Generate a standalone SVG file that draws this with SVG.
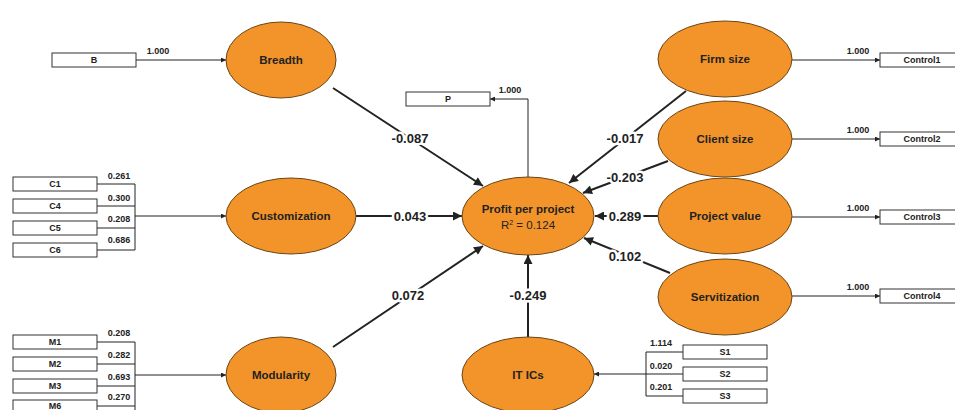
<svg xmlns="http://www.w3.org/2000/svg" width="955" height="410" viewBox="0 0 955 410">
<defs>
<style>
.lv ellipse{fill:#F3942A;stroke:#6b4414;stroke-width:1}
.lv text{font-family:"Liberation Sans",Arial,sans-serif;font-weight:bold;font-size:11.5px;fill:#222;text-anchor:middle}
.mv rect{fill:#fff;stroke:#333;stroke-width:1}
.mv text{font-family:"Liberation Sans",Arial,sans-serif;font-weight:bold;font-size:9px;fill:#222;text-anchor:middle}
.thin{stroke:#222;stroke-width:1;fill:none}
.thick{stroke:#222;stroke-width:2;fill:none}
.ld{font-family:"Liberation Sans",Arial,sans-serif;font-weight:bold;font-size:9px;fill:#222;text-anchor:middle}
.pc{font-family:"Liberation Sans",Arial,sans-serif;font-weight:bold;font-size:13px;fill:#222;text-anchor:middle;stroke:#fff;stroke-width:5;paint-order:stroke;stroke-linejoin:round}
</style>
<marker id="as" viewBox="0 0 10 10" refX="10" refY="5" markerWidth="6" markerHeight="5" markerUnits="userSpaceOnUse" orient="auto"><path d="M0,0 L10,5 L0,10 z" fill="#222"/></marker>
<marker id="al" viewBox="0 0 10 10" refX="10" refY="5" markerWidth="11" markerHeight="9" markerUnits="userSpaceOnUse" orient="auto"><path d="M0,0 L10,5 L0,10 z" fill="#222"/></marker>
</defs>
<rect width="955" height="410" fill="#fff"/>

<g id="connectors">
<line class="thin" x1="136" y1="60" x2="226" y2="60" marker-end="url(#as)"/>
<path class="thin" d="M97,184 H135 M97,206 H135 M97,228 H135 M97,250 H135 M135,184 V250"/>
<line class="thin" x1="135" y1="216" x2="226" y2="216" marker-end="url(#as)"/>
<path class="thin" d="M97,342 H135 M97,364 H135 M97,386 H135 M97,406 H135 M135,342 V410"/>
<line class="thin" x1="135" y1="375" x2="226" y2="375" marker-end="url(#as)"/>
<path class="thin" d="M528,177 V99 H490" marker-end="url(#as)"/>
<line class="thin" x1="792" y1="60" x2="880" y2="60" marker-end="url(#as)"/>
<line class="thin" x1="792" y1="139" x2="880" y2="139" marker-end="url(#as)"/>
<line class="thin" x1="792" y1="217" x2="880" y2="217" marker-end="url(#as)"/>
<line class="thin" x1="792" y1="296" x2="880" y2="296" marker-end="url(#as)"/>
<path class="thin" d="M683,352 H646 M683,374 H646 M683,396 H646 M646,352 V396"/>
<line class="thin" x1="646" y1="374" x2="594" y2="374" marker-end="url(#as)"/>
<line class="thick" x1="333" y1="88" x2="483" y2="186" marker-end="url(#al)"/>
<line class="thick" x1="356" y1="216" x2="462" y2="216" marker-end="url(#al)"/>
<line class="thick" x1="333" y1="347" x2="483" y2="246" marker-end="url(#al)"/>
<line class="thick" x1="528" y1="337" x2="528" y2="255" marker-end="url(#al)"/>
<line class="thick" x1="686" y1="91" x2="569" y2="183" marker-end="url(#al)"/>
<line class="thick" x1="668" y1="161" x2="583" y2="193" marker-end="url(#al)"/>
<line class="thick" x1="658" y1="216" x2="595" y2="216" marker-end="url(#al)"/>
<line class="thick" x1="670" y1="273" x2="584" y2="238" marker-end="url(#al)"/>
<text class="ld" x="158" y="54">1.000</text>
<text class="ld" x="119" y="179">0.261</text>
<text class="ld" x="119" y="201">0.300</text>
<text class="ld" x="119" y="222">0.208</text>
<text class="ld" x="119" y="243">0.686</text>
<text class="ld" x="119" y="336">0.208</text>
<text class="ld" x="119" y="358">0.282</text>
<text class="ld" x="119" y="380">0.693</text>
<text class="ld" x="119" y="400">0.270</text>
<text class="ld" x="510" y="93">1.000</text>
<text class="ld" x="858" y="54">1.000</text>
<text class="ld" x="858" y="133">1.000</text>
<text class="ld" x="858" y="211">1.000</text>
<text class="ld" x="858" y="290">1.000</text>
<text class="ld" x="661" y="346">1.114</text>
<text class="ld" x="661" y="369">0.020</text>
<text class="ld" x="661" y="390">0.201</text>
<text class="pc" x="410" y="143">-0.087</text>
<text class="pc" x="410" y="221">0.043</text>
<text class="pc" x="408" y="300">0.072</text>
<text class="pc" x="528" y="300">-0.249</text>
<text class="pc" x="625" y="143">-0.017</text>
<text class="pc" x="625" y="182">-0.203</text>
<text class="pc" x="625" y="221">0.289</text>
<text class="pc" x="625" y="261">0.102</text>
</g>

<g id="breadth" class="lv"><ellipse cx="281" cy="60" rx="55" ry="38"/><text x="281" y="64">Breadth</text></g>
<g id="customization" class="lv"><ellipse cx="291" cy="216" rx="65" ry="38"/><text x="291" y="220">Customization</text></g>
<g id="modularity" class="lv"><ellipse cx="281" cy="375" rx="55" ry="38"/><text x="281" y="379">Modularity</text></g>
<g id="profit" class="lv"><ellipse cx="528" cy="216" rx="66" ry="39"/><text x="528" y="213">Profit per project</text><text x="528" y="229" style="font-weight:normal">R<tspan dy="-4" font-size="7">2</tspan><tspan dy="4"> = 0.124</tspan></text></g>
<g id="itics" class="lv"><ellipse cx="528" cy="375" rx="66" ry="38"/><text x="528" y="379">IT ICs</text></g>
<g id="firmsize" class="lv"><ellipse cx="725" cy="59" rx="67" ry="38"/><text x="725" y="63">Firm size</text></g>
<g id="clientsize" class="lv"><ellipse cx="725" cy="139" rx="67" ry="38"/><text x="725" y="143">Client size</text></g>
<g id="projectvalue" class="lv"><ellipse cx="725" cy="216" rx="67" ry="38"/><text x="725" y="220">Project value</text></g>
<g id="servitization" class="lv"><ellipse cx="725" cy="297" rx="67" ry="38"/><text x="725" y="301">Servitization</text></g>

<g id="B" class="mv"><rect x="52" y="53" width="84" height="14"/><text x="94" y="63">B</text></g>
<g id="C1" class="mv"><rect x="13" y="177" width="84" height="14"/><text x="55" y="187">C1</text></g>
<g id="C4" class="mv"><rect x="13" y="199" width="84" height="14"/><text x="55" y="209">C4</text></g>
<g id="C5" class="mv"><rect x="13" y="221" width="84" height="14"/><text x="55" y="231">C5</text></g>
<g id="C6" class="mv"><rect x="13" y="243" width="84" height="14"/><text x="55" y="253">C6</text></g>
<g id="M1" class="mv"><rect x="13" y="335" width="84" height="14"/><text x="55" y="345">M1</text></g>
<g id="M2" class="mv"><rect x="13" y="357" width="84" height="14"/><text x="55" y="367">M2</text></g>
<g id="M3" class="mv"><rect x="13" y="379" width="84" height="14"/><text x="55" y="389">M3</text></g>
<g id="M6" class="mv"><rect x="13" y="400" width="84" height="14"/><text x="55" y="408.5">M6</text></g>
<g id="P" class="mv"><rect x="406" y="92" width="84" height="14"/><text x="448" y="102">P</text></g>
<g id="Control1" class="mv"><rect x="880" y="53" width="84" height="14"/><text x="922" y="63">Control1</text></g>
<g id="Control2" class="mv"><rect x="880" y="132" width="84" height="14"/><text x="922" y="142">Control2</text></g>
<g id="Control3" class="mv"><rect x="880" y="210" width="84" height="14"/><text x="922" y="220">Control3</text></g>
<g id="Control4" class="mv"><rect x="880" y="289" width="84" height="14"/><text x="922" y="299">Control4</text></g>
<g id="S1" class="mv"><rect x="683" y="345" width="84" height="14"/><text x="725" y="355">S1</text></g>
<g id="S2" class="mv"><rect x="683" y="367" width="84" height="14"/><text x="725" y="377">S2</text></g>
<g id="S3" class="mv"><rect x="683" y="389" width="84" height="14"/><text x="725" y="399">S3</text></g>
</svg>
